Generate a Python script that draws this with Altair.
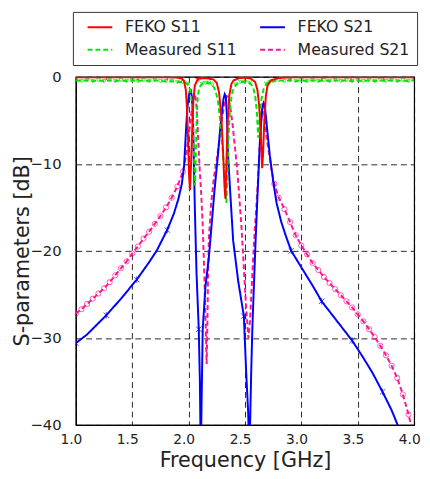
import altair as alt
import pandas as pd

# ---------------- data ----------------
series_names = ["FEKO S11", "Measured S11", "FEKO S21", "Measured S21"]
series_colors = ["#ff0000", "#00e600", "#0000ff", "#ff1493"]
series_dashes = [[1, 0], [5, 3], [1, 0], [5, 3]]

# FEKO S21 (blue)
feko_s21_f = [1.0, 1.1, 1.27, 1.4, 1.54, 1.65, 1.72, 1.81, 1.87, 1.91, 1.94, 1.96,
              1.97, 1.98, 1.99, 2.0, 2.01, 2.02, 2.03, 2.04, 2.047, 2.055, 2.07, 2.09, 2.1, 2.106,
              2.112, 2.125, 2.15, 2.18, 2.23, 2.26, 2.28, 2.3, 2.31, 2.32, 2.33, 2.34, 2.35,
              2.37, 2.395, 2.44, 2.49, 2.51, 2.528, 2.537,
              2.545, 2.555, 2.565, 2.578, 2.595, 2.613, 2.63, 2.645, 2.655, 2.665, 2.675, 2.685,
              2.7, 2.72, 2.75, 2.78, 2.82, 2.86, 2.91, 3.0, 3.1, 3.18, 3.3, 3.45, 3.55, 3.63,
              3.72, 3.8, 3.86, 3.9]
feko_s21_db = [-30.6, -29.6, -27.4, -25.5, -23.3, -21.3, -19.9, -17.6, -15.7, -14.0, -12.3, -10.2,
               -7.8, -5.4, -3.5, -2.3, -1.7, -1.6, -2.4, -5.5, -10.0, -15.0, -22.5, -29.0, -35.0, -42.0,
               -40.0, -29.0, -24.0, -20.7, -13.0, -9.0, -6.0, -3.5, -2.5, -2.0, -2.3, -4.5, -9.0,
               -13.5, -18.8, -23.5, -27.5, -33.8, -38.5, -43.0,
               -40.0, -34.0, -29.0, -24.4, -18.5, -13.0, -8.0, -5.0, -3.5, -3.0, -3.3, -4.5,
               -6.5, -9.0, -12.0, -14.5, -16.6, -18.2, -20.0, -21.9, -24.0, -25.8, -27.8, -30.3, -32.3, -34.0,
               -36.2, -38.3, -40.2, -41.5]
feko_s21_marks = [1.0, 1.27, 1.54, 1.81, 2.09, 2.49, 2.91, 3.18, 3.45, 3.72]

# Measured S21 (magenta)
meas_s21_f = [1.0, 1.05, 1.1, 1.15, 1.2, 1.25, 1.3, 1.35, 1.4, 1.45, 1.5, 1.55, 1.6, 1.65,
              1.7, 1.75, 1.8, 1.85, 1.9, 1.95,
              1.97, 1.99, 2.01, 2.03, 2.045, 2.055, 2.065, 2.075, 2.09, 2.1, 2.11, 2.125, 2.14,
              2.152, 2.16, 2.166, 2.172, 2.18, 2.2, 2.225, 2.25, 2.275, 2.3, 2.32, 2.335, 2.35,
              2.37, 2.39, 2.41, 2.43, 2.445, 2.47, 2.49, 2.51, 2.53, 2.545, 2.56, 2.58, 2.6,
              2.615, 2.63, 2.645, 2.655, 2.665, 2.675, 2.69, 2.71, 2.73, 2.76,
              2.8, 2.85, 2.9, 2.95, 3.0, 3.05, 3.1, 3.15, 3.2, 3.25, 3.3, 3.35, 3.4, 3.45,
              3.5, 3.55, 3.6, 3.65, 3.7, 3.75, 3.8, 3.85, 3.9, 3.95, 4.0]
meas_s21_db = [-27.2, -26.7, -26.1, -25.5, -24.9, -24.3, -23.6, -22.8, -22.0, -21.2, -20.3, -19.5,
               -18.6, -17.8, -16.9, -16.0, -15.0, -13.9, -12.6, -10.9,
               -9.6, -7.8, -5.8, -3.6, -2.3, -2.0, -2.6, -4.5, -8.5, -11.0, -13.0, -17.0, -23.0,
               -29.0, -33.0, -29.0, -23.0, -18.5, -14.5, -11.5, -9.5, -7.0, -4.5, -2.8, -2.2, -2.3,
               -3.5, -5.5, -8.0, -10.5, -13.0, -17.5, -22.0, -26.5, -30.0, -28.0, -24.0, -19.0, -15.0,
               -12.0, -8.0, -4.5, -3.2, -3.3, -5.0, -6.8, -8.5, -10.3, -12.3,
               -13.9, -15.2, -16.7, -18.2, -19.4, -20.4, -21.4, -22.2, -23.0, -23.7, -24.4, -25.1,
               -25.8, -26.5, -27.3, -28.1, -29.0, -29.9, -30.9, -32.0, -33.2, -34.6, -36.5, -38.8, -41.5]

# FEKO S11 (red)
feko_s11_f = [1.0, 1.27, 1.55, 1.81, 1.9, 1.94, 1.96, 1.975, 1.985, 1.995, 2.003, 2.012, 2.022,
              2.032, 2.042, 2.055, 2.08, 2.09, 2.15, 2.22, 2.25, 2.27, 2.29, 2.305, 2.318, 2.326,
              2.334, 2.345, 2.36, 2.38, 2.4, 2.45, 2.5, 2.55, 2.59, 2.61, 2.625, 2.64, 2.652,
              2.66, 2.67, 2.685, 2.7, 2.73, 2.8, 2.9, 3.18, 3.44, 3.73, 4.0]
feko_s11_db = [-0.05, -0.05, -0.05, -0.05, -0.1, -0.2, -0.5, -1.5, -3.5, -7.0, -11.0, -13.0, -10.0,
               -6.0, -2.8, -1.0, -0.3, -0.2, -0.15, -0.3, -0.7, -1.8, -4.5, -8.5, -12.5, -14.0,
               -10.5, -5.5, -2.2, -0.8, -0.4, -0.15, -0.1, -0.2, -0.6, -1.5, -3.2, -6.5, -10.5,
               -9.0, -5.5, -2.2, -1.0, -0.4, -0.15, -0.05, -0.05, -0.05, -0.05, -0.05]
feko_s11_marks = [1.0, 1.27, 1.55, 1.81, 2.09, 2.5, 2.9, 3.18, 3.44, 3.73, 4.0]

# Measured S11 (green)
meas_s11_f = [1.0, 1.05, 1.1, 1.15, 1.2, 1.25, 1.3, 1.35, 1.4, 1.45, 1.5, 1.55, 1.6, 1.65,
              1.7, 1.75, 1.8, 1.85, 1.9, 1.95,
              1.99, 2.01, 2.025, 2.038, 2.048, 2.056, 2.064, 2.072, 2.082, 2.095, 2.12, 2.15,
              2.18, 2.21, 2.24, 2.26, 2.28, 2.3, 2.32, 2.335, 2.345, 2.355, 2.37, 2.39, 2.42,
              2.46, 2.5, 2.54, 2.57, 2.59, 2.605, 2.617, 2.63, 2.645, 2.665, 2.69, 2.72, 2.75,
              2.8, 2.85, 2.9, 2.95, 3.0, 3.05, 3.1, 3.15, 3.2, 3.25, 3.3, 3.35, 3.4, 3.45,
              3.5, 3.55, 3.6, 3.65, 3.7, 3.75, 3.8, 3.85, 3.9, 3.95, 4.0]
meas_s11_db = [-0.4, -0.5, -0.4, -0.5, -0.4, -0.5, -0.4, -0.5, -0.4, -0.5, -0.4, -0.5, -0.4, -0.5,
               -0.4, -0.5, -0.5, -0.5, -0.6, -0.6,
               -0.8, -1.3, -2.5, -5.0, -9.0, -12.5, -9.0, -4.5, -2.2, -1.2, -0.8, -0.7,
               -0.7, -0.9, -1.6, -2.8, -5.0, -8.0, -11.5, -14.5, -11.0, -6.5, -3.2, -1.6, -0.9,
               -0.6, -0.6, -0.7, -1.1, -2.2, -4.0, -7.0, -4.8, -2.6, -1.4, -0.8, -0.6, -0.5,
               -0.4, -0.5, -0.4, -0.5, -0.4, -0.5, -0.4, -0.5, -0.4, -0.5, -0.4, -0.5, -0.4, -0.5,
               -0.4, -0.5, -0.4, -0.5, -0.4, -0.5, -0.4, -0.5, -0.4, -0.5, -0.4]

x_ticks = [1.0, 1.5, 2.0, 2.5, 3.0, 3.5, 4.0]
y_ticks = [-40, -30, -20, -10, 0]

# ---------------- build table ----------------
frames = []
for name, fs, dbs in [("FEKO S11", feko_s11_f, feko_s11_db),
                      ("FEKO S21", feko_s21_f, feko_s21_db),
                      ("Measured S11", meas_s11_f, meas_s11_db),
                      ("Measured S21", meas_s21_f, meas_s21_db)]:
    frames.append(pd.DataFrame({"f": fs, "db": dbs, "series": name}))
df = pd.concat(frames, ignore_index=True)

FONT = "DejaVu Sans"

legend = alt.Legend(
    title=None, orient="none", legendX=-3, legendY=-66, columns=2,
    symbolType="M-1.8,0L1.8,0", symbolSize=196, symbolStrokeWidth=2,
    symbolOffset=12,
    labelFont=FONT, labelFontSize=16, labelColor="#222", labelOffset=17.5,
    columnPadding=15.5, rowPadding=7, padding=7.5,
    strokeColor="#333", fillColor="white",
)

x_enc = alt.X("f:Q", scale=alt.Scale(domain=[1.0, 4.0], nice=False, zero=False),
              axis=alt.Axis(values=x_ticks, format=".1f", title="Frequency [GHz]",
                            labelOffset=-5))
y_enc = alt.Y("db:Q", scale=alt.Scale(domain=[-40, 0], nice=False),
              axis=alt.Axis(values=y_ticks, format="d", title="S-parameters [dB]"))
color_enc = alt.Color("series:N", scale=alt.Scale(domain=series_names, range=series_colors), legend=legend)
dash_enc = alt.StrokeDash("series:N",
                          scale=alt.Scale(domain=series_names, range=series_dashes),
                          legend=legend)

base = alt.Chart(df).encode(x=x_enc, y=y_enc, color=color_enc, strokeDash=dash_enc)

def line(name):
    return base.transform_filter(alt.datum.series == name).mark_line(strokeWidth=2, clip=True)

plain = alt.Chart(df).encode(x=alt.X("f:Q"), y=alt.Y("db:Q"))

def one_of(vals):
    return "indexof([" + ",".join(str(v) for v in vals) + "], datum.f) >= 0"

plus_shape = "M-1,0L1,0M0,-1L0,1"
star_shape = "M-1,-1L1,1M-1,1L1,-1M0,-1.2L0,1.2"

mag_pts = plain.transform_filter(
    "datum.series == 'Measured S21' && (datum.f <= 1.96 || datum.f >= 2.75)"
).mark_point(shape="circle", filled=False, size=28, strokeWidth=1, color="#ff1493", clip=True)

grn_pts = plain.transform_filter(
    "datum.series == 'Measured S11' && datum.db > -1.0"
).mark_point(shape="triangle-down", filled=False, size=16, strokeWidth=1, color="#00e600", clip=True)

blue_pts = plain.transform_filter(
    "datum.series == 'FEKO S21' && " + one_of(feko_s21_marks)
).mark_point(shape=star_shape, filled=False, size=30, strokeWidth=1, color="#0000ff", clip=True)

red_pts = plain.transform_filter(
    "datum.series == 'FEKO S11' && " + one_of(feko_s11_marks)
).mark_point(shape=plus_shape, filled=False, size=40, strokeWidth=1.2, color="#ff0000", clip=True)

chart = alt.layer(
    line("Measured S21"), mag_pts,
    line("FEKO S21"), blue_pts,
    line("Measured S11"), grn_pts,
    line("FEKO S11"), red_pts,
).properties(
    width=344, height=354,
    padding={"left": 69, "top": 66, "right": 8, "bottom": 50},
    autosize=alt.AutoSizeParams(type="none"),
    background="white",
).configure_view(
    stroke="black", strokeWidth=1.2
).configure_axis(
    labelFont=FONT, labelFontSize=15, labelColor="#222", labelFlush=False,
    titleFont=FONT, titleFontSize=20, titleFontWeight="normal", titleColor="#222",
    domainColor="black", domainWidth=1.2,
    grid=True, gridColor="black", gridDash=[6, 4], gridWidth=1, gridOpacity=0.85,
    tickSize=0,
).configure_axisX(
    labelPadding=8, titlePadding=3, titleFontSize=21, labelFontSize=14
).configure_axisY(
    labelPadding=15, titlePadding=-3, titleFontSize=21
)

chart.save("out.html", embed_options={"renderer": "svg", "actions": False})
